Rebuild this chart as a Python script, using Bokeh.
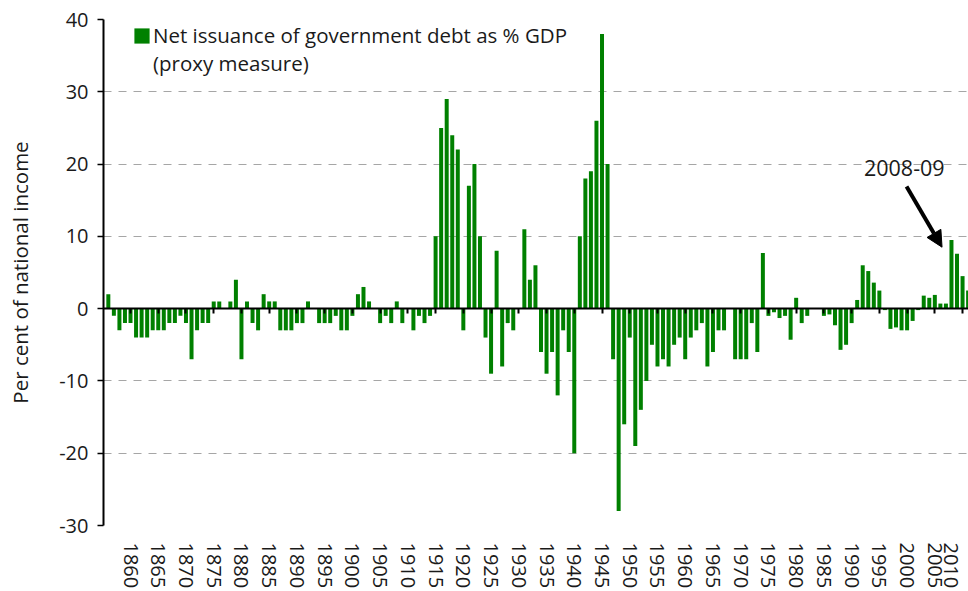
from bokeh.plotting import figure
from bokeh.models import (ColumnDataSource, Range1d, FixedTicker, LinearAxis,
                          Label, Arrow, NormalHead, BoxAnnotation, Legend, LegendItem)
from bokeh.embed import file_html
from bokeh.resources import INLINE

# ---------------- data ----------------
years = list(range(1856, 2012))
values = [
    2, -1, -3, -2,                                  # 1856-1859
    -2, -4, -4, -4, -3, -3, -3, -2, -2, -1,         # 1860-1869
    -2, -7, -3, -2, -2, 1, 1, 0, 1, 4,              # 1870-1879
    -7, 1, -2, -3, 2, 1, 1, -3, -3, -3,             # 1880-1889
    -2, -2, 1, 0, -2, -2, -2, -1, -3, -3,           # 1890-1899
    -1, 2, 3, 1, 0, -2, -1, -2, 1, -2,              # 1900-1909
    0, -3, -1, -2, -1, 10, 25, 29, 24, 22,          # 1910-1919
    -3, 17, 20, 10, -4, -9, 8, -8, -2, -3,          # 1920-1929
    0, 11, 4, 6, -6, -9, -6, -12, -3, -6,           # 1930-1939
    -20, 10, 18, 19, 26, 38, 20, -7, -28, -16,      # 1940-1949
    -4, -19, -14, -10, -5, -8, -7, -8, -5, -4,      # 1950-1959
    -7, -4, -3, -2, -8, -6, -3, -3, 0, -7,          # 1960-1969
    -7, -7, -2, -6, 7.7, -1, -0.5, -1.3, -1, -4.3,  # 1970-1979
    1.5, -2, -1, 0, 0, -1, -0.8, -2.3, -5.7, -5,    # 1980-1989
    -2, 1.2, 6, 5.2, 3.6, 2.5, -0.2, -2.8, -2.6, -3,  # 1990-1999
    -3, -1.7, -0.2, 1.8, 1.5, 1.9, 0.7, 0.7, 9.5, 7.6,  # 2000-2009
    4.5, 2.5,                                       # 2010-2011
]
x_ticks = [1860, 1865, 1870, 1875, 1880, 1885, 1890, 1895, 1900, 1905,
           1910, 1915, 1920, 1925, 1930, 1935, 1940, 1945, 1950, 1955,
           1960, 1965, 1970, 1975, 1980, 1985, 1990, 1995, 2000, 2005, 2010]
y_ticks = [-30, -20, -10, 0, 10, 20, 30, 40]
series_label_lines = ["Net issuance of government debt as % GDP", "(proxy measure)"]
y_title = "Per cent of national income"
note_text = "2008-09"
note_year = 2008

FONT = "Open Sans"
TXT = "#1a1a1a"
TICK_FS = "20px"

source = ColumnDataSource(dict(year=years, value=values))

p = figure(width=968, height=591,
           x_range=Range1d(1855.13, 2011.07), y_range=Range1d(-30, 40),
           output_backend="svg", toolbar_location=None,
           min_border_left=103, min_border_right=0,
           min_border_top=19, min_border_bottom=66)
p.outline_line_color = None
p.background_fill_color = "white"

bars = p.vbar(x="year", top="value", width=0.72, source=source,
              fill_color="#008000", line_color=None)

# grid
p.xgrid.visible = False
p.ygrid.ticker = FixedTicker(ticks=y_ticks)
p.ygrid.grid_line_color = "#a6a6a6"
p.ygrid.grid_line_dash = "8 7"
p.ygrid.grid_line_width = 1

# y axis
ya = p.yaxis[0]
ya.ticker = FixedTicker(ticks=y_ticks)
ya.major_label_overrides = {t: str(t) for t in y_ticks}
ya.axis_line_width = 2
ya.axis_line_color = "black"
ya.major_tick_out = 6
ya.major_tick_in = 0
ya.major_tick_line_width = 1.5
ya.minor_tick_line_color = None
ya.major_label_standoff = 9
ya.major_label_text_font = FONT
ya.major_label_text_font_size = TICK_FS
ya.major_label_text_color = TXT
ya.axis_label = y_title
ya.axis_label_text_font = FONT
ya.axis_label_text_font_size = "20.5px"
ya.axis_label_text_font_style = "normal"
ya.axis_label_text_color = TXT
ya.axis_label_standoff = 22

# bottom axis: labels only; the last label is nudged inside the window edge
# (as the reference does) by placing it 2 years to the left
label_pos = x_ticks[:-1] + [x_ticks[-1] - 2]
xa = p.xaxis[0]
xa.ticker = FixedTicker(ticks=label_pos)
xa.major_label_overrides = {label_pos[-1]: str(x_ticks[-1])}
xa.axis_line_color = None
xa.major_tick_line_color = None
xa.major_tick_out = 0
xa.major_tick_in = 0
xa.minor_tick_line_color = None
xa.major_label_orientation = "vertical"
xa.major_label_standoff = 17
xa.major_label_text_font = FONT
xa.major_label_text_font_size = TICK_FS
xa.major_label_text_color = TXT

# zero line axis with ticks
zero_axis = LinearAxis(fixed_location=0, ticker=FixedTicker(ticks=x_ticks))
zero_axis.axis_line_width = 2
zero_axis.axis_line_color = "black"
zero_axis.major_tick_out = 5
zero_axis.major_tick_in = 0
zero_axis.major_tick_line_width = 2
zero_axis.minor_tick_line_color = None
zero_axis.major_label_text_font_size = "0px"
zero_axis.major_label_text_alpha = 0
p.add_layout(zero_axis, "below")

# cover top grid line behind legend
p.add_layout(BoxAnnotation(left=1850, right=1942, bottom=38.8, top=41,
                           fill_color="white", fill_alpha=1, line_color=None,
                           level="underlay"))

# legend
legend = Legend(items=[LegendItem(label=series_label_lines[0], renderers=[bars]),
                       LegendItem(label=series_label_lines[1], renderers=[])])
legend.location = (29, 448)
legend.padding = 8
legend.margin = 0
legend.spacing = -3
legend.border_line_color = None
legend.background_fill_color = "white"
legend.background_fill_alpha = 1
legend.glyph_width = 19
legend.glyph_height = 19
legend.label_standoff = 2
legend.label_text_font = FONT
legend.label_text_font_size = "20.5px"
legend.label_text_color = TXT
p.add_layout(legend)

# annotation
p.add_layout(Label(x=note_year - 8.5, y=18.3, text=note_text, text_align="center",
                   text_font=FONT, text_font_size="21.5px", text_color=TXT))
p.add_layout(Arrow(x_start=note_year - 8.1, y_start=16.9, x_end=note_year - 1.7, y_end=8.5,
                   line_width=4, line_color="black",
                   end=NormalHead(size=16, fill_color="black", line_color="black")))

open("out.html", "w").write(file_html(p, INLINE))
